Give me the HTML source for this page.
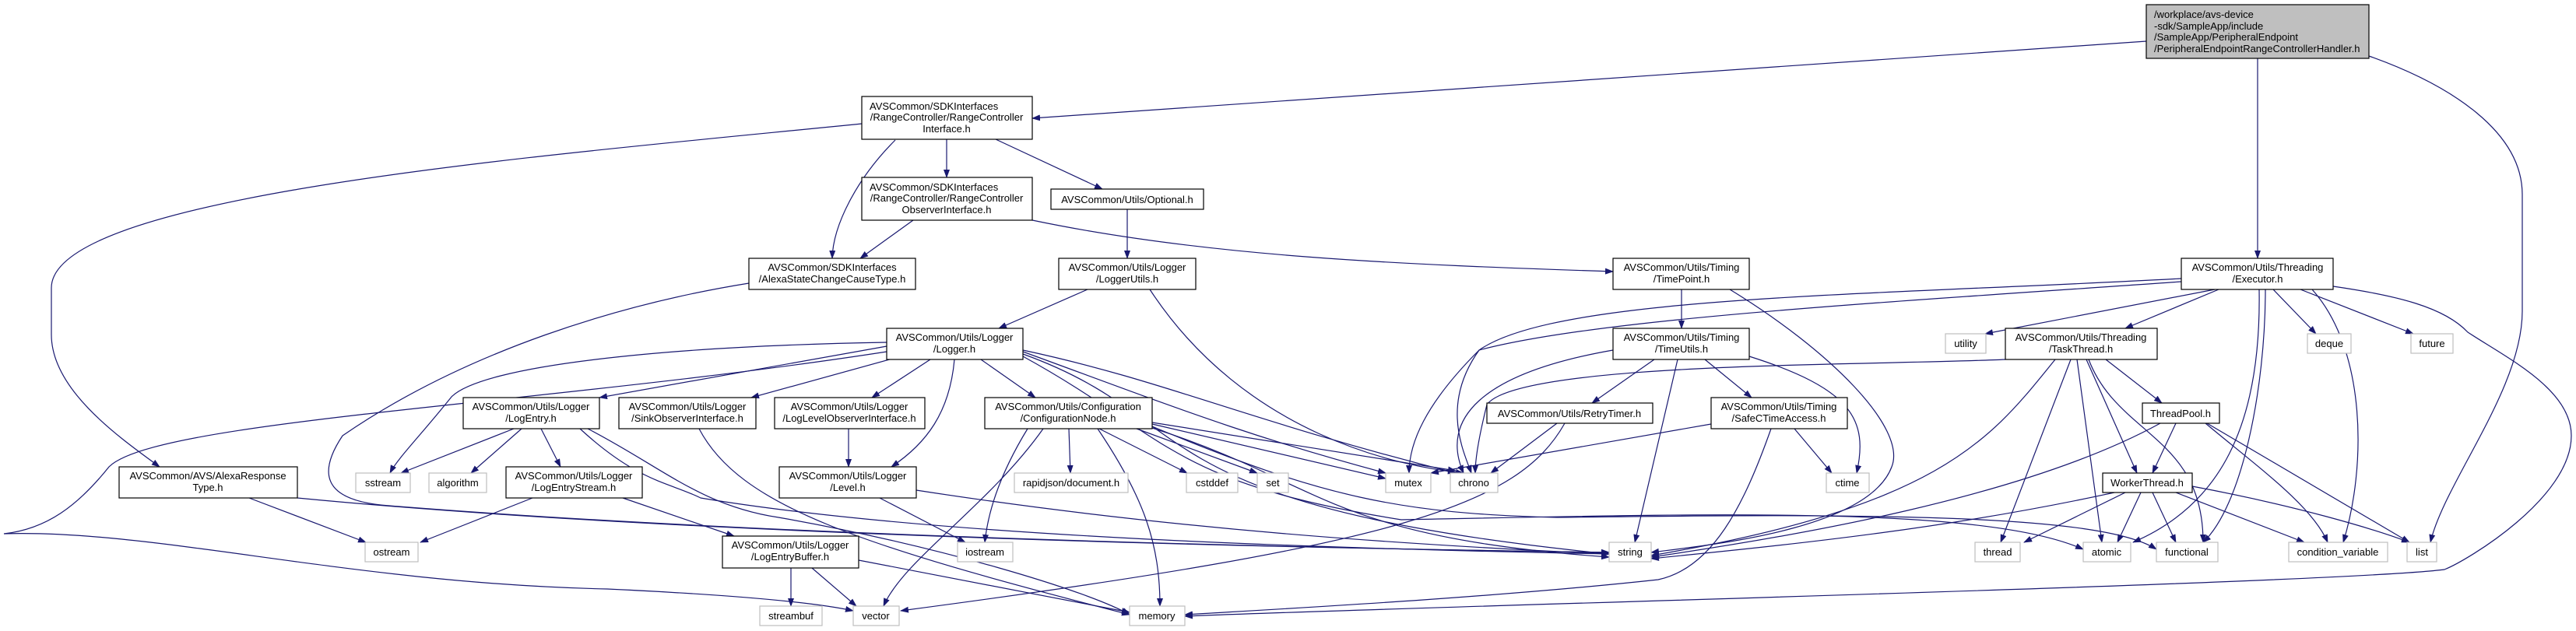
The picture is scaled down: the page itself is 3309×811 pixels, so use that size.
<!DOCTYPE html>
<html><head><meta charset="utf-8"><style>
html,body{margin:0;padding:0;background:#fff;}
svg{display:block;}
text{font-family:"Liberation Sans",sans-serif;font-size:13px;fill:#000;}
.e{fill:none;stroke:#191970;stroke-width:1.2;}
.n{fill:#fff;stroke:#000;stroke-width:1.2;}
.x{fill:#fff;stroke:#bfbfbf;stroke-width:1.2;}
</style></head><body>
<svg width="3309" height="811" viewBox="0 0 3309 811" xmlns="http://www.w3.org/2000/svg">
<defs><marker id="a" markerWidth="11" markerHeight="8" refX="10" refY="4" orient="auto" markerUnits="userSpaceOnUse"><path d="M0,0 L11,4 L0,8 z" fill="#191970"/></marker></defs>
<g class="e" marker-end="url(#a)">
<path d="M2757,53 L1326,152"/>
<path d="M2900,75 L2900,332"/>
<path d="M3043,72 C3150,110 3240,170 3240,250 L3240,400 C3240,500 3140,620 3122,697"/>
<path d="M1107,159 C700,200 66,250 66,370 L66,430 C66,500 150,560 205,600"/>
<path d="M1150,180 C1100,230 1070,290 1069,332"/>
<path d="M1216,179 L1216,228"/>
<path d="M1279,179 L1416,243"/>
<path d="M1173,283 L1105,332"/>
<path d="M1326,283 C1550,330 1800,340 2072,349"/>
<path d="M1448,269 L1448,332"/>
<path d="M1397,372 L1283,422"/>
<path d="M1477,372 C1600,560 1800,600 1880,608"/>
<path d="M962,364 C800,390 600,450 440,560 C400,620 430,645 500,650 C1000,690 1700,705 2067,710"/>
<path d="M320,640 L470,697"/>
<path d="M382,640 C900,690 1700,705 2067,710"/>
<path d="M1139,440 C850,445 620,470 580,510 C540,560 510,590 501,608"/>
<path d="M1139,445 L770,511"/>
<path d="M1150,460 L965,511"/>
<path d="M1195,462 L1120,511"/>
<path d="M1226,462 C1220,530 1190,570 1145,600"/>
<path d="M1260,462 L1330,511"/>
<path d="M1139,452 C700,520 200,540 140,600 C100,650 60,680 5,686 C200,680 450,750 780,757 C950,765 1050,775 1096,785"/>
<path d="M1314,452 C1500,520 1600,560 1780,608"/>
<path d="M1314,450 C1500,490 1600,540 1870,608"/>
<path d="M1314,455 C1550,540 1450,650 2067,712"/>
<path d="M1314,458 C1500,560 1500,620 1800,668 C2200,660 2550,650 2676,706"/>
<path d="M660,551 L515,608"/>
<path d="M670,551 L605,608"/>
<path d="M695,551 L720,600"/>
<path d="M745,551 C820,620 860,620 900,640 C1200,690 1700,705 2067,712"/>
<path d="M755,551 C850,600 900,650 1000,665 C1200,700 1400,760 1451,790"/>
<path d="M898,551 C950,650 1100,700 1451,790"/>
<path d="M1090,551 L1090,600"/>
<path d="M1130,640 L1240,697"/>
<path d="M1177,630 C1500,680 1800,700 2067,712"/>
<path d="M684,640 L540,697"/>
<path d="M800,640 L943,689"/>
<path d="M1016,730 L1016,779"/>
<path d="M1043,730 L1100,779"/>
<path d="M1103,720 L1451,787"/>
<path d="M1340,551 C1270,650 1160,720 1135,779"/>
<path d="M1320,551 C1290,600 1270,650 1265,697"/>
<path d="M1373,551 L1375,608"/>
<path d="M1410,551 C1470,640 1490,700 1490,779"/>
<path d="M1412,551 L1525,608"/>
<path d="M1460,551 L1615,608"/>
<path d="M1480,545 L1780,615"/>
<path d="M1480,543 L1870,605"/>
<path d="M1480,550 C1700,620 1700,690 2067,716"/>
<path d="M1480,548 C1700,640 1800,660 2000,665 C2400,660 2700,660 2770,706"/>
<path d="M2160,372 L2160,422"/>
<path d="M2222,372 C2350,450 2450,550 2430,600 C2400,680 2200,700 2121,710"/>
<path d="M2072,450 C1900,480 1850,540 1880,608"/>
<path d="M2125,462 L2045,518"/>
<path d="M2155,462 L2100,697"/>
<path d="M2190,462 L2250,511"/>
<path d="M2247,458 C2380,500 2400,540 2385,608"/>
<path d="M2000,544 L1915,608"/>
<path d="M2010,544 C1950,650 1800,700 1157,785"/>
<path d="M2198,545 L1838,608"/>
<path d="M2305,551 L2353,608"/>
<path d="M2275,551 C2240,650 2200,730 2130,745 C1900,770 1600,785 1522,790"/>
<path d="M2802,358 C2400,380 2000,380 1900,450 C1830,520 1810,570 1810,608"/>
<path d="M2802,362 C2400,390 2050,410 1900,450 C1850,520 1880,580 1890,608"/>
<path d="M2845,372 L2550,429"/>
<path d="M2850,372 L2730,422"/>
<path d="M2902,372 C2905,550 2850,650 2740,697"/>
<path d="M2910,372 C2910,500 2880,650 2830,697"/>
<path d="M2920,372 L2975,429"/>
<path d="M2955,372 L3100,429"/>
<path d="M2970,372 C3040,450 3040,600 3010,697"/>
<path d="M2997,368 C3080,380 3140,395 3170,427 C3220,460 3303,500 3303,560 C3303,640 3170,720 3140,732 C3000,750 1800,780 1522,792"/>
<path d="M2576,462 C2400,470 1950,465 1910,520 C1900,560 1895,590 1895,608"/>
<path d="M2640,462 C2560,560 2500,650 2121,714"/>
<path d="M2660,462 L2570,697"/>
<path d="M2668,462 L2700,697"/>
<path d="M2680,462 L2745,608"/>
<path d="M2683,462 C2720,560 2830,560 2830,697"/>
<path d="M2705,462 L2777,518"/>
<path d="M2775,544 C2600,640 2300,690 2121,716"/>
<path d="M2795,544 L2765,608"/>
<path d="M2833,544 C2900,600 2970,650 2990,697"/>
<path d="M2835,544 L3095,697"/>
<path d="M2716,633 C2500,680 2300,700 2121,718"/>
<path d="M2730,633 L2600,697"/>
<path d="M2750,633 L2720,697"/>
<path d="M2765,633 L2795,697"/>
<path d="M2795,633 L2960,697"/>
<path d="M2816,625 C2950,650 3050,680 3095,697"/>
</g>
<g>
<rect class="n" x="2757" y="6" width="286" height="69" style="fill:#bfbfbf"/>
<text x="2767" y="23">/workplace/avs-device</text>
<text x="2767" y="38">-sdk/SampleApp/include</text>
<text x="2767" y="52">/SampleApp/PeripheralEndpoint</text>
<text x="2767" y="67">/PeripheralEndpointRangeControllerHandler.h</text>
<rect class="n" x="1107" y="124" width="219" height="55"/>
<text x="1117" y="141">AVSCommon/SDKInterfaces</text>
<text x="1216" y="155" text-anchor="middle">/RangeController/RangeController</text>
<text x="1216" y="170" text-anchor="middle">Interface.h</text>
<rect class="n" x="1107" y="228" width="219" height="55"/>
<text x="1117" y="245">AVSCommon/SDKInterfaces</text>
<text x="1216" y="259" text-anchor="middle">/RangeController/RangeController</text>
<text x="1216" y="274" text-anchor="middle">ObserverInterface.h</text>
</g>
<g text-anchor="middle">
<rect class="n" x="1350" y="243" width="196" height="26"/><text x="1448" y="261">AVSCommon/Utils/Optional.h</text>
<rect class="n" x="962" y="332" width="214" height="40"/><text x="1069" y="348">AVSCommon/SDKInterfaces</text><text x="1069" y="363">/AlexaStateChangeCauseType.h</text>
<rect class="n" x="1360" y="332" width="176" height="40"/><text x="1448" y="348">AVSCommon/Utils/Logger</text><text x="1448" y="363">/LoggerUtils.h</text>
<rect class="n" x="2072" y="332" width="175" height="40"/><text x="2160" y="348">AVSCommon/Utils/Timing</text><text x="2160" y="363">/TimePoint.h</text>
<rect class="n" x="2802" y="332" width="195" height="40"/><text x="2900" y="348">AVSCommon/Utils/Threading</text><text x="2900" y="363">/Executor.h</text>
<rect class="n" x="1139" y="422" width="175" height="40"/><text x="1226" y="438">AVSCommon/Utils/Logger</text><text x="1226" y="453">/Logger.h</text>
<rect class="n" x="2072" y="422" width="175" height="40"/><text x="2160" y="438">AVSCommon/Utils/Timing</text><text x="2160" y="453">/TimeUtils.h</text>
<rect class="x" x="2499" y="429" width="52" height="25"/><text x="2525" y="446">utility</text>
<rect class="n" x="2576" y="422" width="195" height="40"/><text x="2673" y="438">AVSCommon/Utils/Threading</text><text x="2673" y="453">/TaskThread.h</text>
<rect class="x" x="2964" y="429" width="56" height="25"/><text x="2992" y="446">deque</text>
<rect class="x" x="3097" y="429" width="54" height="25"/><text x="3124" y="446">future</text>
<rect class="n" x="595" y="511" width="175" height="40"/><text x="682" y="527">AVSCommon/Utils/Logger</text><text x="682" y="542">/LogEntry.h</text>
<rect class="n" x="795" y="511" width="176" height="40"/><text x="883" y="527">AVSCommon/Utils/Logger</text><text x="883" y="542">/SinkObserverInterface.h</text>
<rect class="n" x="995" y="511" width="193" height="40"/><text x="1091" y="527">AVSCommon/Utils/Logger</text><text x="1091" y="542">/LogLevelObserverInterface.h</text>
<rect class="n" x="1265" y="511" width="215" height="40"/><text x="1372" y="527">AVSCommon/Utils/Configuration</text><text x="1372" y="542">/ConfigurationNode.h</text>
<rect class="n" x="1910" y="518" width="213" height="26"/><text x="2016" y="536">AVSCommon/Utils/RetryTimer.h</text>
<rect class="n" x="2198" y="511" width="175" height="40"/><text x="2285" y="527">AVSCommon/Utils/Timing</text><text x="2285" y="542">/SafeCTimeAccess.h</text>
<rect class="n" x="2752" y="518" width="99" height="26"/><text x="2801" y="536">ThreadPool.h</text>
<rect class="n" x="153" y="600" width="229" height="40"/><text x="267" y="616">AVSCommon/AVS/AlexaResponse</text><text x="267" y="631">Type.h</text>
<rect class="x" x="457" y="608" width="70" height="25"/><text x="492" y="625">sstream</text>
<rect class="x" x="551" y="608" width="74" height="25"/><text x="588" y="625">algorithm</text>
<rect class="n" x="650" y="600" width="175" height="40"/><text x="737" y="616">AVSCommon/Utils/Logger</text><text x="737" y="631">/LogEntryStream.h</text>
<rect class="n" x="1001" y="600" width="176" height="40"/><text x="1089" y="616">AVSCommon/Utils/Logger</text><text x="1089" y="631">/Level.h</text>
<rect class="x" x="1303" y="608" width="146" height="25"/><text x="1376" y="625">rapidjson/document.h</text>
<rect class="x" x="1524" y="608" width="66" height="25"/><text x="1557" y="625">cstddef</text>
<rect class="x" x="1615" y="608" width="40" height="25"/><text x="1635" y="625">set</text>
<rect class="x" x="1780" y="608" width="58" height="25"/><text x="1809" y="625">mutex</text>
<rect class="x" x="1863" y="608" width="61" height="25"/><text x="1893" y="625">chrono</text>
<rect class="x" x="2346" y="608" width="55" height="25"/><text x="2373" y="625">ctime</text>
<rect class="n" x="2701" y="608" width="115" height="25"/><text x="2758" y="625">WorkerThread.h</text>
<rect class="x" x="469" y="697" width="68" height="25"/><text x="503" y="714">ostream</text>
<rect class="n" x="928" y="689" width="175" height="41"/><text x="1015" y="705">AVSCommon/Utils/Logger</text><text x="1015" y="720">/LogEntryBuffer.h</text>
<rect class="x" x="1230" y="697" width="71" height="25"/><text x="1265" y="714">iostream</text>
<rect class="x" x="2067" y="697" width="54" height="25"/><text x="2094" y="714">string</text>
<rect class="x" x="2537" y="697" width="58" height="25"/><text x="2566" y="714">thread</text>
<rect class="x" x="2676" y="697" width="61" height="25"/><text x="2706" y="714">atomic</text>
<rect class="x" x="2770" y="697" width="79" height="25"/><text x="2809" y="714">functional</text>
<rect class="x" x="2940" y="697" width="127" height="25"/><text x="3003" y="714">condition_variable</text>
<rect class="x" x="3092" y="697" width="38" height="25"/><text x="3111" y="714">list</text>
<rect class="x" x="976" y="779" width="80" height="25"/><text x="1016" y="796">streambuf</text>
<rect class="x" x="1096" y="779" width="59" height="25"/><text x="1125" y="796">vector</text>
<rect class="x" x="1451" y="779" width="71" height="25"/><text x="1486" y="796">memory</text>
</g>
</svg>
</body></html>
